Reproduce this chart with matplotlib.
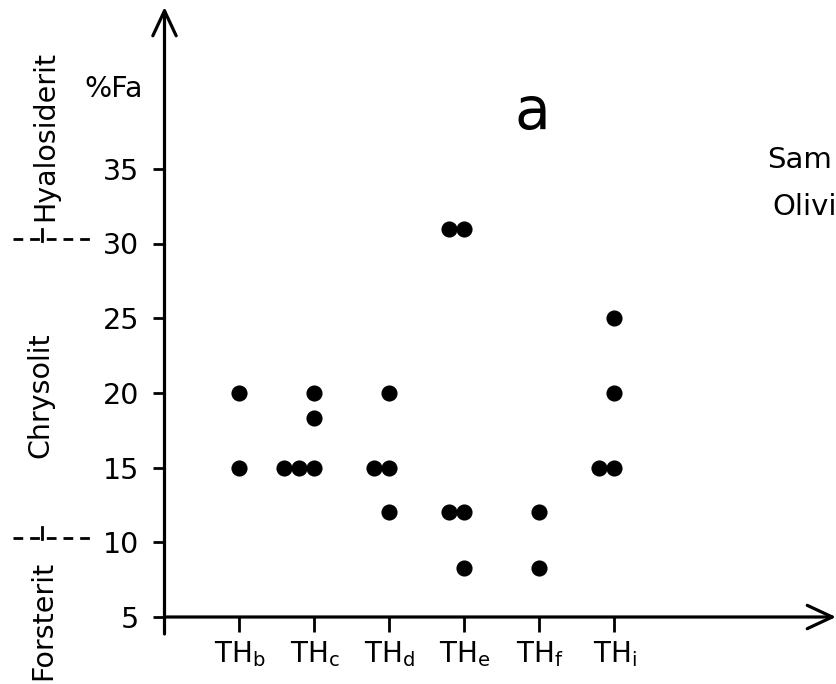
import numpy as np
import matplotlib
matplotlib.use("Agg")
import matplotlib.pyplot as plt

# olivine composition (%Fa) per sample group
groups = ["b", "c", "d", "e", "f", "i"]
fa_values = [
    [20, 15],
    [20, 18.3, 15, 15, 15],
    [20, 15, 15, 12],
    [31, 31, 12, 12, 8.3],
    [12, 8.3],
    [25, 20, 15, 15],
]
y_ticks = [5, 10, 15, 20, 25, 30, 35]
class_bounds = [10, 30]
class_names = ["Forsterit", "Chrysolit", "Hyalosiderit"]

# pixel -> data helpers (the axes fills the whole figure)
W, H = 837, 684
x0_px, dx_px = 164.5, 75.0
y5_px, dy_px = 617.0, 14.94


def px_x(p):
    return (p - x0_px) / dx_px


def px_y(p):
    return 5 + (y5_px - p) / dy_px


fig = plt.figure(figsize=(W / 100, H / 100), dpi=100)
ax = fig.add_axes([0, 0, 1, 1])
ax.set_xlim(px_x(0), px_x(W))
ax.set_ylim(px_y(H), px_y(0))

# dots: duplicates of a value get shifted to the left of the group tick
step = 0.2
xs, ys = [], []
for i, vals in enumerate(groups):
    seen = {}
    for v in fa_values[i]:
        k = seen.get(v, 0)
        seen[v] = k + 1
        xs.append(i + 1 - k * step)
        ys.append(v)
ax.scatter(xs, ys, s=135, color="black", zorder=3, linewidths=0)

# axes with arrows
lw = 2.3
for name in ["top", "right", "left", "bottom"]:
    ax.spines[name].set_visible(False)
ax.spines["left"].set_position(("data", 0))
ax.spines["bottom"].set_position(("data", 5))
arrow = dict(arrowstyle="->, head_length=0.9, head_width=0.42", lw=lw,
             color="black", mutation_scale=20, shrinkA=0, shrinkB=0)
ax.annotate("", xy=(0, px_y(7)), xytext=(0, px_y(634)), arrowprops=arrow)
ax.annotate("", xy=(px_x(836), 5), xytext=(0, 5), arrowprops=arrow)

ax.set_yticks(y_ticks)
ax.set_yticklabels([str(t) for t in y_ticks])
ax.set_xticks(range(len(groups) + 1))
ax.set_xticklabels([""] + ["TH$_\\mathregular{%s}$" % g for g in groups])
ax.tick_params(axis="y", direction="out", length=8, width=2, pad=10,
               labelsize=20.5)
ax.tick_params(axis="x", direction="out", length=11, width=2, pad=5,
               labelsize=20)

# mineral classes on the left
ax.text(px_x(45), px_y(136), class_names[2], rotation=90, fontsize=20.5,
        ha="center", va="center")
ax.text(px_x(40), px_y(395), class_names[1], rotation=90, fontsize=20.5,
        ha="center", va="center")
ax.text(px_x(43), px_y(620), class_names[0], rotation=90, fontsize=20.5,
        ha="center", va="center")
for b in class_bounds:
    ax.plot([px_x(13), px_x(90)], [b + 0.3, b + 0.3], color="black", lw=2,
            ls=(0, (3.5, 2.5)), clip_on=False)
    ax.plot([px_x(42), px_x(42)], [b + 0.2, b + 1.0], color="black", lw=2)

ax.text(px_x(114), px_y(89), "%Fa", fontsize=20.5, ha="center", va="center")
ax.text(px_x(532), px_y(113), "a", fontsize=42, ha="center", va="center")
ax.text(px_x(767), px_y(168), "Sam", fontsize=21, ha="left", va="baseline")
ax.text(px_x(772), px_y(215), "Olivi", fontsize=21, ha="left", va="baseline")

fig.savefig("out.png", dpi=100)
